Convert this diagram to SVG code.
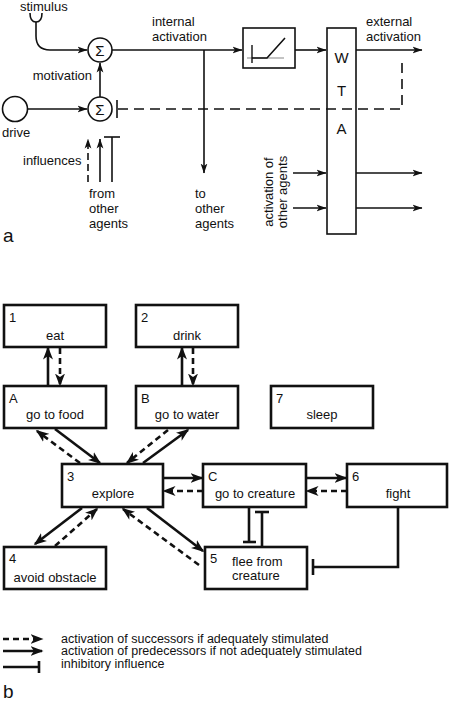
<svg xmlns="http://www.w3.org/2000/svg" width="450" height="701" viewBox="0 0 450 701">
<style>
text{font-family:"Liberation Sans",Arial,sans-serif;font-size:13px;fill:#111}
.big{font-size:19px}
.wta{font-size:15px}
.leg{font-size:12.5px}
.la{fill:none;stroke:#111;stroke-width:1.6}
.lb{fill:none;stroke:#111;stroke-width:2.6}
.da{stroke-dasharray:10,6}
.db{stroke-dasharray:6,4}
.box{fill:#fff;stroke:#111;stroke-width:2.6}
.mid{text-anchor:middle}
</style>
<defs>
<marker id="ha" markerUnits="userSpaceOnUse" markerWidth="10" markerHeight="8" viewBox="0 0 10 8" refX="9.5" refY="4" orient="auto">
<path d="M0,0.6 L10,4 L0,7.4 L2.5,4 z" fill="#111"/>
</marker>
<marker id="hb" markerUnits="userSpaceOnUse" markerWidth="13" markerHeight="11" viewBox="0 0 13 11" refX="11.5" refY="5.5" orient="auto">
<path d="M0,0.5 L13,5.5 L0,10.5 L3.5,5.5 z" fill="#111"/>
</marker>
</defs>

<!-- ===== part a ===== -->
<g id="a-connectors">
<path class="la" d="M30,13 Q30,22 36,22 Q42,22 42,13"/>
<path class="la" d="M36,22 L36,36 Q36,50 50,50 L87,50" marker-end="url(#ha)"/>
<line class="la" x1="27" y1="109" x2="87" y2="109" marker-end="url(#ha)"/>
<line class="la" x1="100" y1="97" x2="100" y2="63" marker-end="url(#ha)"/>
<line class="la" x1="112" y1="50" x2="242" y2="50" marker-end="url(#ha)"/>
<line class="la" x1="204" y1="50" x2="204" y2="173" marker-end="url(#ha)"/>
<line class="la" x1="295" y1="50" x2="326" y2="50" marker-end="url(#ha)"/>
<line class="la" x1="356" y1="50" x2="422" y2="50" marker-end="url(#ha)"/>
<path class="la da" d="M118,109 L402,109 L402,57"/>
<line class="la" x1="117" y1="100" x2="117" y2="118"/>
<line class="la" x1="88" y1="182" x2="88" y2="139" stroke-dasharray="7,4" marker-end="url(#ha)"/>
<line class="la" x1="100" y1="182" x2="100" y2="139" marker-end="url(#ha)"/>
<line class="la" x1="112" y1="182" x2="112" y2="137"/>
<line class="la" x1="104" y1="137" x2="120" y2="137"/>
<line class="la" x1="293" y1="173" x2="326" y2="173" marker-end="url(#ha)"/>
<line class="la" x1="293" y1="208" x2="326" y2="208" marker-end="url(#ha)"/>
<line class="la" x1="356" y1="173" x2="422" y2="173" marker-end="url(#ha)"/>
<line class="la" x1="356" y1="208" x2="422" y2="208" marker-end="url(#ha)"/>
</g>
<g id="sum1">
<circle class="la" cx="100" cy="50" r="12"/>
<text x="100" y="55.5" class="mid" style="font-size:15px">Σ</text>
</g>
<g id="sum2">
<circle class="la" cx="100" cy="109" r="12"/>
<text x="100" y="114.5" class="mid" style="font-size:15px">Σ</text>
</g>
<g id="drive">
<circle class="la" cx="15" cy="109" r="12.5"/>
<text x="2" y="137">drive</text>
</g>
<g id="threshold">
<rect x="243" y="28" width="52" height="40" fill="#fff" stroke="#111" stroke-width="1.6"/>
<line x1="247" y1="58" x2="284" y2="58" stroke="#888" stroke-width="1.2"/>
<line x1="252" y1="45" x2="252" y2="63" stroke="#111" stroke-width="1.4"/>
<path d="M252,58 L267,58 L285,38" fill="none" stroke="#111" stroke-width="1.6"/>
</g>
<g id="wta">
<rect x="327" y="28" width="29" height="206" fill="none" stroke="#111" stroke-width="1.6"/>
<text x="341.5" y="63" class="mid wta">W</text>
<text x="341.5" y="96" class="mid wta">T</text>
<text x="341.5" y="134" class="mid wta">A</text>
</g>
<g id="a-labels">
<text x="20" y="11">stimulus</text>
<text x="92" y="80" text-anchor="end">motivation</text>
<text x="152" y="26">internal</text>
<text x="152" y="41">activation</text>
<text x="366" y="26">external</text>
<text x="366" y="41">activation</text>
<text x="23" y="165">influences</text>
<text x="89" y="198">from</text>
<text x="89" y="213">other</text>
<text x="89" y="228">agents</text>
<text x="195" y="198">to</text>
<text x="195" y="213">other</text>
<text x="195" y="228">agents</text>
<text transform="translate(273,192) rotate(-90)" class="mid">activation of</text>
<text transform="translate(287,192) rotate(-90)" class="mid">other agents</text>
<text x="3" y="242" class="big">a</text>
</g>

<!-- ===== part b ===== -->
<g id="b-connectors">
<line class="lb" x1="48" y1="386" x2="48" y2="348" marker-end="url(#hb)"/>
<line class="lb db" x1="60" y1="348" x2="60" y2="385" marker-end="url(#hb)"/>
<line class="lb" x1="182" y1="386" x2="182" y2="348" marker-end="url(#hb)"/>
<line class="lb db" x1="193" y1="348" x2="193" y2="385" marker-end="url(#hb)"/>
<line class="lb" x1="55" y1="429" x2="100" y2="463" marker-end="url(#hb)"/>
<line class="lb db" x1="80" y1="463" x2="37" y2="431" marker-end="url(#hb)"/>
<line class="lb db" x1="168" y1="430" x2="127" y2="463" marker-end="url(#hb)"/>
<line class="lb" x1="143" y1="463" x2="188" y2="430" marker-end="url(#hb)"/>
<line class="lb" x1="163" y1="478" x2="202" y2="478" marker-end="url(#hb)"/>
<line class="lb db" x1="203" y1="491" x2="164" y2="491" marker-end="url(#hb)"/>
<line class="lb" x1="306" y1="478" x2="346" y2="478" marker-end="url(#hb)"/>
<line class="lb db" x1="347" y1="491" x2="307" y2="491" marker-end="url(#hb)"/>
<line class="lb" x1="82" y1="508" x2="35" y2="544" marker-end="url(#hb)"/>
<line class="lb db" x1="55" y1="546" x2="97" y2="509" marker-end="url(#hb)"/>
<line class="lb" x1="147" y1="508" x2="203" y2="551" marker-end="url(#hb)"/>
<line class="lb db" x1="199" y1="565" x2="123" y2="509" marker-end="url(#hb)"/>
<line class="lb" x1="249" y1="507" x2="249" y2="542"/>
<line class="lb" x1="243" y1="542" x2="256" y2="542"/>
<line class="lb" x1="262" y1="547" x2="262" y2="512"/>
<line class="lb" x1="255" y1="512" x2="269" y2="512"/>
<path class="lb" d="M398,507 L398,567 L313,567"/>
<line class="lb" x1="313" y1="559" x2="313" y2="575"/>
</g>
<g id="n1"><rect class="box" x="4" y="305" width="102" height="42"/><text x="9" y="322">1</text><text x="55" y="340" class="mid">eat</text></g>
<g id="n2"><rect class="box" x="136" y="305" width="102" height="42"/><text x="141" y="322">2</text><text x="187" y="340" class="mid">drink</text></g>
<g id="nA"><rect class="box" x="4" y="386" width="102" height="42"/><text x="9" y="403">A</text><text x="55" y="419" class="mid">go to food</text></g>
<g id="nB"><rect class="box" x="136" y="386" width="102" height="42"/><text x="141" y="403">B</text><text x="187" y="419" class="mid">go to water</text></g>
<g id="n7"><rect class="box" x="271" y="386" width="102" height="42"/><text x="276" y="403">7</text><text x="322" y="419" class="mid">sleep</text></g>
<g id="n3"><rect class="box" x="62" y="464" width="101" height="43"/><text x="67" y="481">3</text><text x="113" y="498" class="mid">explore</text></g>
<g id="nC"><rect class="box" x="203" y="464" width="103" height="43"/><text x="208" y="481">C</text><text x="255" y="498" class="mid">go to creature</text></g>
<g id="n6"><rect class="box" x="347" y="464" width="100" height="43"/><text x="352" y="481">6</text><text x="398" y="498" class="mid">fight</text></g>
<g id="n4"><rect class="box" x="4" y="547" width="102" height="42"/><text x="9" y="563">4</text><text x="55" y="582" class="mid">avoid obstacle</text></g>
<g id="n5"><rect class="box" x="205" y="547" width="102" height="42"/><text x="210" y="563">5</text><text x="232" y="566">flee from</text><text x="232" y="580">creature</text></g>

<g id="legend">
<line class="lb db" x1="3" y1="639" x2="42" y2="639" marker-end="url(#hb)"/>
<line class="lb" x1="3" y1="651" x2="42" y2="651" marker-end="url(#hb)"/>
<line class="lb" x1="3" y1="667" x2="39" y2="667"/>
<line class="lb" x1="39" y1="661" x2="39" y2="673"/>
<text x="61" y="642.5" class="leg">activation of successors if adequately stimulated</text>
<text x="61" y="655" class="leg">activation of predecessors if not adequately stimulated</text>
<text x="61" y="668" class="leg">inhibitory influence</text>
<text x="3" y="698" class="big">b</text>
</g>
</svg>
